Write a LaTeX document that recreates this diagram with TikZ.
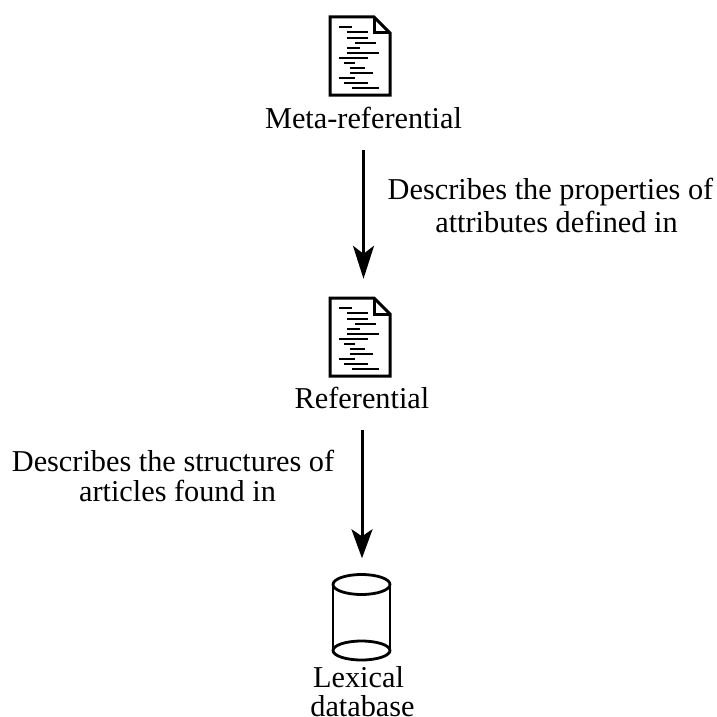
\documentclass[tikz,border=0pt]{standalone}
\usepackage{fontspec}
\setmainfont{Liberation Serif}
\usetikzlibrary{arrows.meta}
\tikzset{
  lbl/.style={inner sep=0pt,align=center,font=\fontsize{30.3}{32.5}\selectfont},
  iconbox/.style={inner sep=0pt,minimum width=62pt,minimum height=80pt},
  conn/.style={line width=3pt,-{Stealth[length=33pt,width=21pt,inset=8pt]}},
  connb/.style={line width=3pt,-{Stealth[length=29pt,width=21pt,inset=7pt]}},
  icon/.style={line width=3pt,line join=miter},
  txt/.style={line width=2.3pt},
  doc/.pic={
    \draw[icon,fill=white] (-30,-39) -- (14,-39) -- (30,-23) -- (30,39) -- (-30,39) -- cycle;
    \draw[icon] (14,-39) -- (14,-23) -- (30,-23);
    \foreach \a/\b/\y in {87/127/51,111/175/67,111/175/83,135/198/98,111/150/113,111/206/128,87/175/143,103/134/158,119/166/173,119/190/188,87/134/203,103/174/218,127/206/234}
      \draw[txt] ({\a/3-50},{\y/3-46}) -- ({\b/3-50},{\y/3-46});
  }
}
\begin{document}
\begin{tikzpicture}[x=1pt,y=-1pt]
\useasboundingbox (0,0) rectangle (716,717);
\node[iconbox] (doca) at (360,56) {};
\pic at (doca.center) {doc};
\node[iconbox] (docb) at (360,337) {};
\pic at (docb.center) {doc};
\node[inner sep=0pt,minimum width=57pt,minimum height=86pt] (db) at (361.5,617.5) {};
\draw[icon,line width=2.8pt] (db.center) ++(-28.5,-33) -- ++(0,66) (db.center) ++(28.5,-33) -- ++(0,66);
\draw[icon,line width=2.8pt] (db.center) ++(0,-33) ellipse [x radius=28.5,y radius=10];
\draw[icon,line width=2.8pt] (db.center) ++(0,33) ellipse [x radius=28.5,y radius=9.5];
\node[lbl,anchor=base] (meta) at (363.5,128) {Meta-referential};
\node[lbl,anchor=base] (ref) at (362,408) {Referential};
\node[lbl,anchor=base] (lex) at (362.5,716) {Lexical\hspace*{8pt}\\[-4pt]database};
\node[lbl,anchor=base] (la) at (550.5,232) {Describes the properties of\\\hspace*{12pt}attributes defined in};
\node[lbl,anchor=base] (lb) at (173,501) {Describes the structures of\\[-3pt]\hspace*{9pt}articles found in};
\draw[conn,shorten <=22pt,shorten >=18pt] (meta.south) -- (meta.south |- docb.north);
\draw[connb,shorten <=21pt,shorten >=16pt] (ref.south) -- (ref.south |- db.north);
\end{tikzpicture}
\end{document}
